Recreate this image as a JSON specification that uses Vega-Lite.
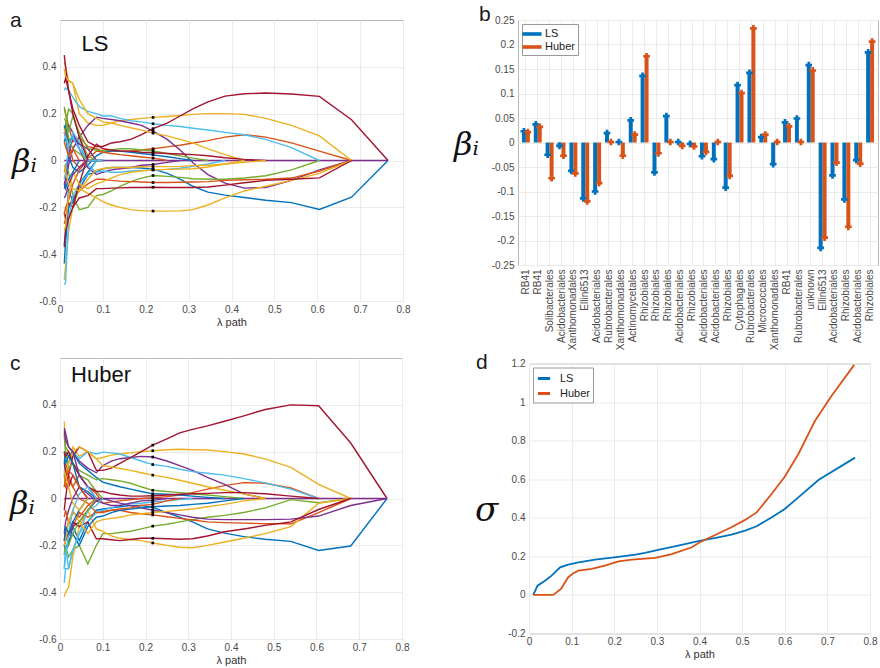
{
"$schema":"https://vega.github.io/schema/vega-lite/v6.json",
"background":"white",
"padding":{"left":9,"top":3,"right":0,"bottom":0},
"config":{"view":{"stroke":"#b8b8b8"},"axis":{"gridColor":"#ebebeb","labelColor":"#4a4a4a","labelFont":"Liberation Sans","labelFontSize":10,"titleFont":"Liberation Sans","titleFontWeight":"normal","titleFontSize":11,"titleColor":"#333","domain":false,"ticks":false,"labelFlush":false,"labelOverlap":false},"title":{"anchor":"start","frame":"group","baseline":"alphabetic","fontSize":21,"fontWeight":"normal","font":"Liberation Sans","color":"#1a1a1a"},"legend":{"labelFont":"Liberation Sans","labelFontSize":11,"labelColor":"#222"}},
"datasets":{
"la":[
{"s":"32","x":0.765,"y":0},{"s":"32","x":0.01,"y":0},
{"s":"01","x":0.765,"y":0},{"s":"01","x":0.68,"y":-0.157},{"s":"01","x":0.605,"y":-0.209},{"s":"01","x":0.54,"y":-0.18},{"s":"01","x":0.48,"y":-0.17},{"s":"01","x":0.43,"y":-0.158},{"s":"01","x":0.385,"y":-0.148},{"s":"01","x":0.345,"y":-0.135},{"s":"01","x":0.31,"y":-0.11},{"s":"01","x":0.28,"y":-0.08},{"s":"01","x":0.25,"y":-0.055},{"s":"01","x":0.217,"y":-0.037},{"s":"01","x":0.19,"y":-0.032},{"s":"01","x":0.165,"y":-0.03},{"s":"01","x":0.14,"y":-0.03},{"s":"01","x":0.12,"y":-0.03},{"s":"01","x":0.1,"y":-0.035},{"s":"01","x":0.085,"y":-0.05},{"s":"01","x":0.065,"y":-0.06},{"s":"01","x":0.045,"y":-0.12},{"s":"01","x":0.03,"y":-0.18},{"s":"01","x":0.02,"y":-0.12},{"s":"01","x":0.013,"y":-0.3},{"s":"01","x":0.01,"y":-0.36},
{"s":"02","x":0.68,"y":0},{"s":"02","x":0.605,"y":0.04},{"s":"02","x":0.54,"y":0.075},{"s":"02","x":0.48,"y":0.1},{"s":"02","x":0.43,"y":0.11},{"s":"02","x":0.385,"y":0.1},{"s":"02","x":0.345,"y":0.085},{"s":"02","x":0.31,"y":0.075},{"s":"02","x":0.28,"y":0.065},{"s":"02","x":0.25,"y":0.058},{"s":"02","x":0.217,"y":0.05},{"s":"02","x":0.19,"y":0.045},{"s":"02","x":0.165,"y":0.04},{"s":"02","x":0.14,"y":0.04},{"s":"02","x":0.12,"y":0.04},{"s":"02","x":0.1,"y":0.04},{"s":"02","x":0.085,"y":0.05},{"s":"02","x":0.065,"y":0.06},{"s":"02","x":0.045,"y":0.1},{"s":"02","x":0.03,"y":0.08},{"s":"02","x":0.02,"y":0.15},{"s":"02","x":0.013,"y":0.2},{"s":"02","x":0.01,"y":0.22},
{"s":"03","x":0.68,"y":0},{"s":"03","x":0.605,"y":0.105},{"s":"03","x":0.54,"y":0.15},{"s":"03","x":0.48,"y":0.18},{"s":"03","x":0.43,"y":0.197},{"s":"03","x":0.385,"y":0.2},{"s":"03","x":0.345,"y":0.2},{"s":"03","x":0.31,"y":0.197},{"s":"03","x":0.28,"y":0.192},{"s":"03","x":0.25,"y":0.188},{"s":"03","x":0.217,"y":0.184},{"s":"03","x":0.19,"y":0.18},{"s":"03","x":0.165,"y":0.175},{"s":"03","x":0.14,"y":0.17},{"s":"03","x":0.12,"y":0.16},{"s":"03","x":0.1,"y":0.15},{"s":"03","x":0.085,"y":0.15},{"s":"03","x":0.065,"y":0.16},{"s":"03","x":0.045,"y":0.2},{"s":"03","x":0.03,"y":0.33},{"s":"03","x":0.02,"y":0.34},{"s":"03","x":0.013,"y":0.4},{"s":"03","x":0.01,"y":0.42},
{"s":"04","x":0.68,"y":0},{"s":"04","x":0.605,"y":-0.04},{"s":"04","x":0.54,"y":-0.085},{"s":"04","x":0.48,"y":-0.115},{"s":"04","x":0.43,"y":-0.118},{"s":"04","x":0.385,"y":-0.097},{"s":"04","x":0.345,"y":-0.06},{"s":"04","x":0.31,"y":-0.01},{"s":"04","x":0.28,"y":0.045},{"s":"04","x":0.25,"y":0.09},{"s":"04","x":0.217,"y":0.125},{"s":"04","x":0.19,"y":0.15},{"s":"04","x":0.165,"y":0.16},{"s":"04","x":0.14,"y":0.17},{"s":"04","x":0.12,"y":0.175},{"s":"04","x":0.1,"y":0.18},{"s":"04","x":0.085,"y":0.185},{"s":"04","x":0.065,"y":0.15},{"s":"04","x":0.045,"y":0.1},{"s":"04","x":0.03,"y":0.05},{"s":"04","x":0.02,"y":-0.02},{"s":"04","x":0.013,"y":-0.1},{"s":"04","x":0.01,"y":-0.12},
{"s":"05","x":0.605,"y":0},{"s":"05","x":0.54,"y":-0.04},{"s":"05","x":0.48,"y":-0.065},{"s":"05","x":0.43,"y":-0.075},{"s":"05","x":0.385,"y":-0.08},{"s":"05","x":0.345,"y":-0.08},{"s":"05","x":0.31,"y":-0.078},{"s":"05","x":0.28,"y":-0.072},{"s":"05","x":0.25,"y":-0.068},{"s":"05","x":0.217,"y":-0.064},{"s":"05","x":0.19,"y":-0.075},{"s":"05","x":0.165,"y":-0.09},{"s":"05","x":0.14,"y":-0.11},{"s":"05","x":0.12,"y":-0.13},{"s":"05","x":0.1,"y":-0.145},{"s":"05","x":0.085,"y":-0.15},{"s":"05","x":0.065,"y":-0.2},{"s":"05","x":0.045,"y":-0.21},{"s":"05","x":0.03,"y":-0.15},{"s":"05","x":0.02,"y":-0.05},{"s":"05","x":0.013,"y":-0.02},{"s":"05","x":0.01,"y":-0.05},
{"s":"06","x":0.605,"y":0},{"s":"06","x":0.54,"y":0.055},{"s":"06","x":0.48,"y":0.09},{"s":"06","x":0.43,"y":0.11},{"s":"06","x":0.385,"y":0.12},{"s":"06","x":0.345,"y":0.13},{"s":"06","x":0.31,"y":0.138},{"s":"06","x":0.28,"y":0.145},{"s":"06","x":0.25,"y":0.15},{"s":"06","x":0.217,"y":0.157},{"s":"06","x":0.19,"y":0.165},{"s":"06","x":0.165,"y":0.17},{"s":"06","x":0.14,"y":0.18},{"s":"06","x":0.12,"y":0.19},{"s":"06","x":0.1,"y":0.19},{"s":"06","x":0.085,"y":0.2},{"s":"06","x":0.065,"y":0.21},{"s":"06","x":0.045,"y":0.23},{"s":"06","x":0.03,"y":0.27},{"s":"06","x":0.02,"y":0.3},{"s":"06","x":0.013,"y":0.31},{"s":"06","x":0.01,"y":0.3},
{"s":"07","x":0.765,"y":0},{"s":"07","x":0.68,"y":0.174},{"s":"07","x":0.605,"y":0.274},{"s":"07","x":0.54,"y":0.284},{"s":"07","x":0.48,"y":0.288},{"s":"07","x":0.43,"y":0.285},{"s":"07","x":0.385,"y":0.275},{"s":"07","x":0.345,"y":0.25},{"s":"07","x":0.31,"y":0.22},{"s":"07","x":0.28,"y":0.19},{"s":"07","x":0.25,"y":0.16},{"s":"07","x":0.217,"y":0.136},{"s":"07","x":0.19,"y":0.11},{"s":"07","x":0.165,"y":0.09},{"s":"07","x":0.14,"y":0.08},{"s":"07","x":0.12,"y":0.075},{"s":"07","x":0.1,"y":0.06},{"s":"07","x":0.085,"y":0.06},{"s":"07","x":0.065,"y":0.08},{"s":"07","x":0.045,"y":0.15},{"s":"07","x":0.03,"y":0.22},{"s":"07","x":0.02,"y":0.3},{"s":"07","x":0.013,"y":0.4},{"s":"07","x":0.01,"y":0.45},
{"s":"08","x":0.31,"y":0},{"s":"08","x":0.28,"y":0.008},{"s":"08","x":0.25,"y":0.016},{"s":"08","x":0.217,"y":0.024},{"s":"08","x":0.19,"y":0.03},{"s":"08","x":0.165,"y":0.035},{"s":"08","x":0.14,"y":0.04},{"s":"08","x":0.12,"y":0.04},{"s":"08","x":0.1,"y":0.035},{"s":"08","x":0.085,"y":0.02},{"s":"08","x":0.065,"y":-0.02},{"s":"08","x":0.045,"y":-0.05},{"s":"08","x":0.03,"y":-0.03},{"s":"08","x":0.02,"y":0.02},{"s":"08","x":0.013,"y":0.1},{"s":"08","x":0.01,"y":0.08},
{"s":"09","x":0.68,"y":0},{"s":"09","x":0.605,"y":-0.045},{"s":"09","x":0.54,"y":-0.075},{"s":"09","x":0.48,"y":-0.08},{"s":"09","x":0.43,"y":-0.082},{"s":"09","x":0.385,"y":-0.085},{"s":"09","x":0.345,"y":-0.09},{"s":"09","x":0.31,"y":-0.092},{"s":"09","x":0.28,"y":-0.093},{"s":"09","x":0.25,"y":-0.094},{"s":"09","x":0.217,"y":-0.094},{"s":"09","x":0.19,"y":-0.092},{"s":"09","x":0.165,"y":-0.09},{"s":"09","x":0.14,"y":-0.088},{"s":"09","x":0.12,"y":-0.085},{"s":"09","x":0.1,"y":-0.08},{"s":"09","x":0.085,"y":-0.08},{"s":"09","x":0.065,"y":-0.1},{"s":"09","x":0.045,"y":-0.13},{"s":"09","x":0.03,"y":-0.16},{"s":"09","x":0.02,"y":-0.2},{"s":"09","x":0.013,"y":-0.25},{"s":"09","x":0.01,"y":-0.27},
{"s":"10","x":0.68,"y":0},{"s":"10","x":0.605,"y":-0.055},{"s":"10","x":0.54,"y":-0.085},{"s":"10","x":0.48,"y":-0.11},{"s":"10","x":0.43,"y":-0.13},{"s":"10","x":0.385,"y":-0.16},{"s":"10","x":0.345,"y":-0.19},{"s":"10","x":0.31,"y":-0.21},{"s":"10","x":0.28,"y":-0.215},{"s":"10","x":0.25,"y":-0.216},{"s":"10","x":0.217,"y":-0.216},{"s":"10","x":0.19,"y":-0.214},{"s":"10","x":0.165,"y":-0.21},{"s":"10","x":0.14,"y":-0.2},{"s":"10","x":0.12,"y":-0.19},{"s":"10","x":0.1,"y":-0.176},{"s":"10","x":0.085,"y":-0.16},{"s":"10","x":0.065,"y":-0.14},{"s":"10","x":0.045,"y":-0.12},{"s":"10","x":0.03,"y":-0.2},{"s":"10","x":0.02,"y":-0.3},{"s":"10","x":0.013,"y":-0.45},{"s":"10","x":0.01,"y":-0.51},
{"s":"11","x":0.28,"y":0},{"s":"11","x":0.25,"y":-0.008},{"s":"11","x":0.217,"y":-0.017},{"s":"11","x":0.19,"y":-0.02},{"s":"11","x":0.165,"y":-0.03},{"s":"11","x":0.14,"y":-0.035},{"s":"11","x":0.12,"y":-0.04},{"s":"11","x":0.1,"y":-0.05},{"s":"11","x":0.085,"y":-0.06},{"s":"11","x":0.065,"y":-0.03},{"s":"11","x":0.045,"y":0.05},{"s":"11","x":0.03,"y":0.12},{"s":"11","x":0.02,"y":0.15},{"s":"11","x":0.013,"y":0.1},{"s":"11","x":0.01,"y":0.12},
{"s":"12","x":0.345,"y":0},{"s":"12","x":0.31,"y":0.01},{"s":"12","x":0.28,"y":0.02},{"s":"12","x":0.25,"y":0.03},{"s":"12","x":0.217,"y":0.041},{"s":"12","x":0.19,"y":0.045},{"s":"12","x":0.165,"y":0.05},{"s":"12","x":0.14,"y":0.05},{"s":"12","x":0.12,"y":0.045},{"s":"12","x":0.1,"y":0.04},{"s":"12","x":0.085,"y":0.045},{"s":"12","x":0.065,"y":0.05},{"s":"12","x":0.045,"y":0.12},{"s":"12","x":0.03,"y":0.19},{"s":"12","x":0.02,"y":0.12},{"s":"12","x":0.013,"y":0.2},{"s":"12","x":0.01,"y":0.23},
{"s":"13","x":0.385,"y":0},{"s":"13","x":0.345,"y":-0.015},{"s":"13","x":0.31,"y":-0.025},{"s":"13","x":0.28,"y":-0.033},{"s":"13","x":0.25,"y":-0.038},{"s":"13","x":0.217,"y":-0.04},{"s":"13","x":0.19,"y":-0.042},{"s":"13","x":0.165,"y":-0.045},{"s":"13","x":0.14,"y":-0.05},{"s":"13","x":0.12,"y":-0.05},{"s":"13","x":0.1,"y":-0.045},{"s":"13","x":0.085,"y":-0.05},{"s":"13","x":0.065,"y":-0.02},{"s":"13","x":0.045,"y":0.08},{"s":"13","x":0.03,"y":0.12},{"s":"13","x":0.02,"y":0.05},{"s":"13","x":0.013,"y":0.1},{"s":"13","x":0.01,"y":0.12},
{"s":"14","x":0.68,"y":0},{"s":"14","x":0.605,"y":-0.074},{"s":"14","x":0.54,"y":-0.08},{"s":"14","x":0.48,"y":-0.085},{"s":"14","x":0.43,"y":-0.095},{"s":"14","x":0.385,"y":-0.105},{"s":"14","x":0.345,"y":-0.113},{"s":"14","x":0.31,"y":-0.115},{"s":"14","x":0.28,"y":-0.115},{"s":"14","x":0.25,"y":-0.115},{"s":"14","x":0.217,"y":-0.114},{"s":"14","x":0.19,"y":-0.115},{"s":"14","x":0.165,"y":-0.115},{"s":"14","x":0.14,"y":-0.117},{"s":"14","x":0.12,"y":-0.118},{"s":"14","x":0.1,"y":-0.12},{"s":"14","x":0.085,"y":-0.12},{"s":"14","x":0.065,"y":-0.15},{"s":"14","x":0.045,"y":-0.16},{"s":"14","x":0.03,"y":-0.2},{"s":"14","x":0.02,"y":-0.18},{"s":"14","x":0.013,"y":-0.25},{"s":"14","x":0.01,"y":-0.22},
{"s":"15","x":0.1,"y":0},{"s":"15","x":0.085,"y":0},{"s":"15","x":0.065,"y":-0.05},{"s":"15","x":0.045,"y":-0.1},{"s":"15","x":0.03,"y":-0.18},{"s":"15","x":0.02,"y":-0.2},{"s":"15","x":0.013,"y":-0.35},{"s":"15","x":0.01,"y":-0.44},
{"s":"16","x":0.25,"y":0},{"s":"16","x":0.217,"y":0.01},{"s":"16","x":0.19,"y":0.015},{"s":"16","x":0.165,"y":0.02},{"s":"16","x":0.14,"y":0.025},{"s":"16","x":0.12,"y":0.03},{"s":"16","x":0.1,"y":0.035},{"s":"16","x":0.085,"y":0.04},{"s":"16","x":0.065,"y":0.01},{"s":"16","x":0.045,"y":-0.03},{"s":"16","x":0.03,"y":0},{"s":"16","x":0.02,"y":0.08},{"s":"16","x":0.013,"y":0.12},{"s":"16","x":0.01,"y":0.15},
{"s":"17","x":0.43,"y":0},{"s":"17","x":0.385,"y":0.025},{"s":"17","x":0.345,"y":0.05},{"s":"17","x":0.31,"y":0.075},{"s":"17","x":0.28,"y":0.09},{"s":"17","x":0.25,"y":0.105},{"s":"17","x":0.217,"y":0.117},{"s":"17","x":0.19,"y":0.13},{"s":"17","x":0.165,"y":0.14},{"s":"17","x":0.14,"y":0.15},{"s":"17","x":0.12,"y":0.16},{"s":"17","x":0.1,"y":0.165},{"s":"17","x":0.085,"y":0.18},{"s":"17","x":0.065,"y":0.2},{"s":"17","x":0.045,"y":0.26},{"s":"17","x":0.03,"y":0.33},{"s":"17","x":0.02,"y":0.34},{"s":"17","x":0.013,"y":0.36},{"s":"17","x":0.01,"y":0.39},
{"s":"18","x":0.1,"y":0},{"s":"18","x":0.085,"y":0},{"s":"18","x":0.065,"y":0.05},{"s":"18","x":0.045,"y":0.07},{"s":"18","x":0.03,"y":0.1},{"s":"18","x":0.02,"y":0.02},{"s":"18","x":0.013,"y":-0.08},{"s":"18","x":0.01,"y":-0.1},
{"s":"19","x":0.1,"y":0},{"s":"19","x":0.085,"y":0},{"s":"19","x":0.065,"y":0.02},{"s":"19","x":0.045,"y":0.1},{"s":"19","x":0.03,"y":0.2},{"s":"19","x":0.02,"y":0.22},{"s":"19","x":0.013,"y":0.15},{"s":"19","x":0.01,"y":0.13},
{"s":"20","x":0.1,"y":0},{"s":"20","x":0.085,"y":0},{"s":"20","x":0.065,"y":-0.06},{"s":"20","x":0.045,"y":-0.1},{"s":"20","x":0.03,"y":-0.15},{"s":"20","x":0.02,"y":-0.25},{"s":"20","x":0.013,"y":-0.52},{"s":"20","x":0.01,"y":-0.53},
{"s":"21","x":0.48,"y":0},{"s":"21","x":0.43,"y":0.005},{"s":"21","x":0.385,"y":0.012},{"s":"21","x":0.345,"y":0.02},{"s":"21","x":0.31,"y":0.025},{"s":"21","x":0.28,"y":0.028},{"s":"21","x":0.25,"y":0.03},{"s":"21","x":0.217,"y":0.033},{"s":"21","x":0.19,"y":0.035},{"s":"21","x":0.165,"y":0.04},{"s":"21","x":0.14,"y":0.04},{"s":"21","x":0.12,"y":0.045},{"s":"21","x":0.1,"y":0.05},{"s":"21","x":0.085,"y":0.07},{"s":"21","x":0.065,"y":0.02},{"s":"21","x":0.045,"y":-0.1},{"s":"21","x":0.03,"y":-0.2},{"s":"21","x":0.02,"y":-0.25},{"s":"21","x":0.013,"y":-0.3},{"s":"21","x":0.01,"y":-0.37},
{"s":"22","x":0.085,"y":0},{"s":"22","x":0.065,"y":0},{"s":"22","x":0.045,"y":0.05},{"s":"22","x":0.03,"y":0.1},{"s":"22","x":0.02,"y":0.08},{"s":"22","x":0.013,"y":0.15},{"s":"22","x":0.01,"y":0.14},
{"s":"23","x":0.085,"y":0},{"s":"23","x":0.065,"y":0},{"s":"23","x":0.045,"y":-0.04},{"s":"23","x":0.03,"y":-0.1},{"s":"23","x":0.02,"y":-0.17},{"s":"23","x":0.013,"y":-0.2},{"s":"23","x":0.01,"y":-0.23},
{"s":"24","x":0.43,"y":0},{"s":"24","x":0.385,"y":-0.015},{"s":"24","x":0.345,"y":-0.028},{"s":"24","x":0.31,"y":-0.035},{"s":"24","x":0.28,"y":-0.037},{"s":"24","x":0.25,"y":-0.038},{"s":"24","x":0.217,"y":-0.04},{"s":"24","x":0.19,"y":-0.045},{"s":"24","x":0.165,"y":-0.05},{"s":"24","x":0.14,"y":-0.06},{"s":"24","x":0.12,"y":-0.075},{"s":"24","x":0.1,"y":-0.09},{"s":"24","x":0.085,"y":-0.1},{"s":"24","x":0.065,"y":-0.12},{"s":"24","x":0.045,"y":-0.1},{"s":"24","x":0.03,"y":-0.05},{"s":"24","x":0.02,"y":-0.15},{"s":"24","x":0.013,"y":-0.28},{"s":"24","x":0.01,"y":-0.3},
{"s":"25","x":0.085,"y":0},{"s":"25","x":0.065,"y":0},{"s":"25","x":0.045,"y":-0.03},{"s":"25","x":0.03,"y":-0.06},{"s":"25","x":0.02,"y":-0.1},{"s":"25","x":0.013,"y":-0.15},{"s":"25","x":0.01,"y":-0.16},
{"s":"26","x":0.085,"y":0},{"s":"26","x":0.065,"y":0},{"s":"26","x":0.045,"y":0.03},{"s":"26","x":0.03,"y":0.05},{"s":"26","x":0.02,"y":0.1},{"s":"26","x":0.013,"y":0.17},{"s":"26","x":0.01,"y":0.18},
{"s":"27","x":0.085,"y":0},{"s":"27","x":0.065,"y":0},{"s":"27","x":0.045,"y":0.05},{"s":"27","x":0.03,"y":0.1},{"s":"27","x":0.02,"y":0.06},{"s":"27","x":0.013,"y":-0.05},{"s":"27","x":0.01,"y":-0.08},
{"s":"28","x":0.065,"y":0},{"s":"28","x":0.045,"y":0.1},{"s":"28","x":0.03,"y":0.2},{"s":"28","x":0.02,"y":0.3},{"s":"28","x":0.013,"y":0.35},{"s":"28","x":0.01,"y":0.33},
{"s":"29","x":0.045,"y":0},{"s":"29","x":0.03,"y":-0.05},{"s":"29","x":0.02,"y":-0.08},{"s":"29","x":0.013,"y":-0.12},{"s":"29","x":0.01,"y":-0.1},
{"s":"30","x":0.045,"y":0},{"s":"30","x":0.03,"y":0.05},{"s":"30","x":0.02,"y":0.02},{"s":"30","x":0.013,"y":0.06},{"s":"30","x":0.01,"y":0.08},
{"s":"31","x":0.48,"y":0},{"s":"31","x":0.43,"y":-0.008},{"s":"31","x":0.385,"y":-0.015},{"s":"31","x":0.345,"y":-0.02},{"s":"31","x":0.31,"y":-0.022},{"s":"31","x":0.28,"y":-0.025},{"s":"31","x":0.25,"y":-0.026},{"s":"31","x":0.217,"y":-0.026},{"s":"31","x":0.19,"y":-0.027},{"s":"31","x":0.165,"y":-0.03},{"s":"31","x":0.14,"y":-0.03},{"s":"31","x":0.12,"y":-0.03},{"s":"31","x":0.1,"y":-0.035},{"s":"31","x":0.085,"y":-0.04},{"s":"31","x":0.065,"y":-0.08},{"s":"31","x":0.045,"y":-0.13},{"s":"31","x":0.03,"y":-0.12},{"s":"31","x":0.02,"y":-0.1},{"s":"31","x":0.013,"y":-0.05},{"s":"31","x":0.01,"y":-0.02}
],
"lc":[
{"s":"32","x":0.765,"y":0},{"s":"32","x":0.01,"y":0},
{"s":"01","x":0.765,"y":0},{"s":"01","x":0.68,"y":-0.203},{"s":"01","x":0.605,"y":-0.222},{"s":"01","x":0.54,"y":-0.183},{"s":"01","x":0.48,"y":-0.174},{"s":"01","x":0.43,"y":-0.163},{"s":"01","x":0.385,"y":-0.148},{"s":"01","x":0.345,"y":-0.13},{"s":"01","x":0.31,"y":-0.1},{"s":"01","x":0.28,"y":-0.08},{"s":"01","x":0.25,"y":-0.06},{"s":"01","x":0.217,"y":-0.038},{"s":"01","x":0.19,"y":-0.03},{"s":"01","x":0.165,"y":-0.03},{"s":"01","x":0.14,"y":-0.035},{"s":"01","x":0.12,"y":-0.04},{"s":"01","x":0.1,"y":-0.045},{"s":"01","x":0.085,"y":-0.05},{"s":"01","x":0.065,"y":-0.1},{"s":"01","x":0.045,"y":-0.18},{"s":"01","x":0.03,"y":-0.12},{"s":"01","x":0.02,"y":-0.2},{"s":"01","x":0.013,"y":-0.22},{"s":"01","x":0.01,"y":-0.24},
{"s":"02","x":0.605,"y":0},{"s":"02","x":0.54,"y":0.045},{"s":"02","x":0.48,"y":0.065},{"s":"02","x":0.43,"y":0.068},{"s":"02","x":0.385,"y":0.055},{"s":"02","x":0.345,"y":0.04},{"s":"02","x":0.31,"y":0.025},{"s":"02","x":0.28,"y":0.015},{"s":"02","x":0.25,"y":0.008},{"s":"02","x":0.217,"y":0.003},{"s":"02","x":0.19,"y":0},{"s":"02","x":0.14,"y":-0.01},{"s":"02","x":0.1,"y":-0.02},{"s":"02","x":0.085,"y":0.02},{"s":"02","x":0.065,"y":0.05},{"s":"02","x":0.045,"y":0.1},{"s":"02","x":0.03,"y":0.05},{"s":"02","x":0.02,"y":0.1},{"s":"02","x":0.013,"y":0.15},{"s":"02","x":0.01,"y":0.2},
{"s":"03","x":0.68,"y":0},{"s":"03","x":0.605,"y":0.06},{"s":"03","x":0.54,"y":0.133},{"s":"03","x":0.48,"y":0.169},{"s":"03","x":0.43,"y":0.19},{"s":"03","x":0.385,"y":0.2},{"s":"03","x":0.345,"y":0.207},{"s":"03","x":0.31,"y":0.208},{"s":"03","x":0.28,"y":0.21},{"s":"03","x":0.25,"y":0.208},{"s":"03","x":0.217,"y":0.204},{"s":"03","x":0.19,"y":0.2},{"s":"03","x":0.165,"y":0.195},{"s":"03","x":0.14,"y":0.19},{"s":"03","x":0.12,"y":0.185},{"s":"03","x":0.1,"y":0.175},{"s":"03","x":0.085,"y":0.17},{"s":"03","x":0.065,"y":0.2},{"s":"03","x":0.045,"y":0.18},{"s":"03","x":0.03,"y":0.22},{"s":"03","x":0.02,"y":0.15},{"s":"03","x":0.013,"y":0.2},{"s":"03","x":0.01,"y":0.33},
{"s":"04","x":0.48,"y":0},{"s":"04","x":0.43,"y":0.02},{"s":"04","x":0.385,"y":0.06},{"s":"04","x":0.345,"y":0.09},{"s":"04","x":0.31,"y":0.12},{"s":"04","x":0.28,"y":0.14},{"s":"04","x":0.25,"y":0.16},{"s":"04","x":0.217,"y":0.177},{"s":"04","x":0.19,"y":0.18},{"s":"04","x":0.165,"y":0.175},{"s":"04","x":0.14,"y":0.17},{"s":"04","x":0.12,"y":0.16},{"s":"04","x":0.1,"y":0.14},{"s":"04","x":0.085,"y":0.11},{"s":"04","x":0.065,"y":0.13},{"s":"04","x":0.045,"y":0.16},{"s":"04","x":0.03,"y":0.2},{"s":"04","x":0.02,"y":0.22},{"s":"04","x":0.013,"y":0.28},{"s":"04","x":0.01,"y":0.3},
{"s":"05","x":0.68,"y":0},{"s":"05","x":0.605,"y":-0.018},{"s":"05","x":0.54,"y":-0.005},{"s":"05","x":0.48,"y":-0.04},{"s":"05","x":0.43,"y":-0.06},{"s":"05","x":0.385,"y":-0.072},{"s":"05","x":0.345,"y":-0.08},{"s":"05","x":0.31,"y":-0.09},{"s":"05","x":0.28,"y":-0.1},{"s":"05","x":0.25,"y":-0.11},{"s":"05","x":0.217,"y":-0.118},{"s":"05","x":0.19,"y":-0.13},{"s":"05","x":0.165,"y":-0.14},{"s":"05","x":0.14,"y":-0.145},{"s":"05","x":0.12,"y":-0.15},{"s":"05","x":0.1,"y":-0.15},{"s":"05","x":0.085,"y":-0.2},{"s":"05","x":0.065,"y":-0.28},{"s":"05","x":0.045,"y":-0.2},{"s":"05","x":0.03,"y":-0.22},{"s":"05","x":0.02,"y":-0.25},{"s":"05","x":0.013,"y":-0.2},{"s":"05","x":0.01,"y":-0.24},
{"s":"06","x":0.605,"y":0},{"s":"06","x":0.54,"y":0.04},{"s":"06","x":0.48,"y":0.067},{"s":"06","x":0.43,"y":0.085},{"s":"06","x":0.385,"y":0.1},{"s":"06","x":0.345,"y":0.108},{"s":"06","x":0.31,"y":0.115},{"s":"06","x":0.28,"y":0.125},{"s":"06","x":0.25,"y":0.137},{"s":"06","x":0.217,"y":0.145},{"s":"06","x":0.19,"y":0.16},{"s":"06","x":0.165,"y":0.175},{"s":"06","x":0.14,"y":0.19},{"s":"06","x":0.12,"y":0.195},{"s":"06","x":0.1,"y":0.198},{"s":"06","x":0.085,"y":0.19},{"s":"06","x":0.065,"y":0.2},{"s":"06","x":0.045,"y":0.17},{"s":"06","x":0.03,"y":0.2},{"s":"06","x":0.02,"y":0.15},{"s":"06","x":0.013,"y":0.18},{"s":"06","x":0.01,"y":0.1},
{"s":"07","x":0.765,"y":0},{"s":"07","x":0.68,"y":0.237},{"s":"07","x":0.605,"y":0.396},{"s":"07","x":0.54,"y":0.4},{"s":"07","x":0.48,"y":0.38},{"s":"07","x":0.43,"y":0.353},{"s":"07","x":0.385,"y":0.33},{"s":"07","x":0.345,"y":0.31},{"s":"07","x":0.31,"y":0.295},{"s":"07","x":0.28,"y":0.28},{"s":"07","x":0.25,"y":0.255},{"s":"07","x":0.217,"y":0.228},{"s":"07","x":0.19,"y":0.2},{"s":"07","x":0.165,"y":0.175},{"s":"07","x":0.14,"y":0.15},{"s":"07","x":0.12,"y":0.13},{"s":"07","x":0.1,"y":0.12},{"s":"07","x":0.085,"y":0.12},{"s":"07","x":0.065,"y":0.2},{"s":"07","x":0.045,"y":0.22},{"s":"07","x":0.03,"y":0.18},{"s":"07","x":0.02,"y":0.1},{"s":"07","x":0.013,"y":0},{"s":"07","x":0.01,"y":-0.05},
{"s":"08","x":0.385,"y":0},{"s":"08","x":0.345,"y":0.005},{"s":"08","x":0.31,"y":0.01},{"s":"08","x":0.28,"y":0.015},{"s":"08","x":0.25,"y":0.018},{"s":"08","x":0.217,"y":0.02},{"s":"08","x":0.19,"y":0.03},{"s":"08","x":0.165,"y":0.04},{"s":"08","x":0.14,"y":0.05},{"s":"08","x":0.12,"y":0.06},{"s":"08","x":0.1,"y":0.07},{"s":"08","x":0.085,"y":0.09},{"s":"08","x":0.065,"y":0.12},{"s":"08","x":0.045,"y":0.15},{"s":"08","x":0.03,"y":0.2},{"s":"08","x":0.02,"y":0.18},{"s":"08","x":0.013,"y":0.2},{"s":"08","x":0.01,"y":0.15},
{"s":"09","x":0.68,"y":0},{"s":"09","x":0.605,"y":-0.06},{"s":"09","x":0.54,"y":-0.108},{"s":"09","x":0.48,"y":-0.108},{"s":"09","x":0.43,"y":-0.105},{"s":"09","x":0.385,"y":-0.103},{"s":"09","x":0.345,"y":-0.1},{"s":"09","x":0.31,"y":-0.092},{"s":"09","x":0.28,"y":-0.085},{"s":"09","x":0.25,"y":-0.078},{"s":"09","x":0.217,"y":-0.07},{"s":"09","x":0.19,"y":-0.065},{"s":"09","x":0.165,"y":-0.06},{"s":"09","x":0.14,"y":-0.05},{"s":"09","x":0.12,"y":-0.05},{"s":"09","x":0.1,"y":-0.055},{"s":"09","x":0.085,"y":-0.06},{"s":"09","x":0.065,"y":-0.08},{"s":"09","x":0.045,"y":-0.06},{"s":"09","x":0.03,"y":-0.12},{"s":"09","x":0.02,"y":-0.1},{"s":"09","x":0.013,"y":-0.15},{"s":"09","x":0.01,"y":-0.18},
{"s":"10","x":0.68,"y":0},{"s":"10","x":0.605,"y":-0.02},{"s":"10","x":0.54,"y":-0.12},{"s":"10","x":0.48,"y":-0.15},{"s":"10","x":0.43,"y":-0.17},{"s":"10","x":0.385,"y":-0.186},{"s":"10","x":0.345,"y":-0.2},{"s":"10","x":0.31,"y":-0.21},{"s":"10","x":0.28,"y":-0.208},{"s":"10","x":0.25,"y":-0.2},{"s":"10","x":0.217,"y":-0.19},{"s":"10","x":0.19,"y":-0.18},{"s":"10","x":0.165,"y":-0.175},{"s":"10","x":0.14,"y":-0.17},{"s":"10","x":0.12,"y":-0.16},{"s":"10","x":0.1,"y":-0.14},{"s":"10","x":0.085,"y":-0.13},{"s":"10","x":0.065,"y":-0.05},{"s":"10","x":0.045,"y":-0.12},{"s":"10","x":0.03,"y":-0.25},{"s":"10","x":0.02,"y":-0.38},{"s":"10","x":0.013,"y":-0.4},{"s":"10","x":0.01,"y":-0.42},
{"s":"11","x":0.765,"y":0},{"s":"11","x":0.68,"y":-0.03},{"s":"11","x":0.605,"y":-0.075},{"s":"11","x":0.54,"y":-0.088},{"s":"11","x":0.48,"y":-0.09},{"s":"11","x":0.43,"y":-0.09},{"s":"11","x":0.385,"y":-0.09},{"s":"11","x":0.345,"y":-0.088},{"s":"11","x":0.31,"y":-0.08},{"s":"11","x":0.28,"y":-0.07},{"s":"11","x":0.25,"y":-0.06},{"s":"11","x":0.217,"y":-0.05},{"s":"11","x":0.19,"y":-0.04},{"s":"11","x":0.165,"y":-0.03},{"s":"11","x":0.14,"y":-0.02},{"s":"11","x":0.12,"y":-0.01},{"s":"11","x":0.1,"y":0},{"s":"11","x":0.085,"y":-0.01},{"s":"11","x":0.065,"y":-0.05},{"s":"11","x":0.045,"y":-0.1},{"s":"11","x":0.03,"y":-0.12},{"s":"11","x":0.02,"y":-0.16},{"s":"11","x":0.013,"y":-0.15},{"s":"11","x":0.01,"y":-0.18},
{"s":"12","x":0.43,"y":0},{"s":"12","x":0.385,"y":0.008},{"s":"12","x":0.345,"y":0.015},{"s":"12","x":0.31,"y":0.02},{"s":"12","x":0.28,"y":0.025},{"s":"12","x":0.25,"y":0.03},{"s":"12","x":0.217,"y":0.035},{"s":"12","x":0.19,"y":0.05},{"s":"12","x":0.165,"y":0.065},{"s":"12","x":0.14,"y":0.075},{"s":"12","x":0.12,"y":0.08},{"s":"12","x":0.1,"y":0.085},{"s":"12","x":0.085,"y":0.08},{"s":"12","x":0.065,"y":0.1},{"s":"12","x":0.045,"y":0.12},{"s":"12","x":0.03,"y":0.15},{"s":"12","x":0.02,"y":0.13},{"s":"12","x":0.013,"y":0.2},{"s":"12","x":0.01,"y":0.27},
{"s":"13","x":0.31,"y":0},{"s":"13","x":0.28,"y":-0.005},{"s":"13","x":0.25,"y":-0.01},{"s":"13","x":0.217,"y":-0.015},{"s":"13","x":0.19,"y":-0.02},{"s":"13","x":0.165,"y":-0.02},{"s":"13","x":0.14,"y":-0.03},{"s":"13","x":0.12,"y":-0.04},{"s":"13","x":0.1,"y":-0.05},{"s":"13","x":0.085,"y":-0.06},{"s":"13","x":0.065,"y":-0.1},{"s":"13","x":0.045,"y":-0.15},{"s":"13","x":0.03,"y":-0.22},{"s":"13","x":0.02,"y":-0.3},{"s":"13","x":0.013,"y":-0.3},{"s":"13","x":0.01,"y":-0.36},
{"s":"14","x":0.68,"y":0},{"s":"14","x":0.605,"y":-0.047},{"s":"14","x":0.54,"y":-0.1},{"s":"14","x":0.48,"y":-0.115},{"s":"14","x":0.43,"y":-0.13},{"s":"14","x":0.385,"y":-0.142},{"s":"14","x":0.345,"y":-0.16},{"s":"14","x":0.31,"y":-0.172},{"s":"14","x":0.28,"y":-0.174},{"s":"14","x":0.25,"y":-0.172},{"s":"14","x":0.217,"y":-0.17},{"s":"14","x":0.19,"y":-0.17},{"s":"14","x":0.165,"y":-0.175},{"s":"14","x":0.14,"y":-0.18},{"s":"14","x":0.12,"y":-0.176},{"s":"14","x":0.1,"y":-0.172},{"s":"14","x":0.085,"y":-0.172},{"s":"14","x":0.065,"y":-0.1},{"s":"14","x":0.045,"y":-0.12},{"s":"14","x":0.03,"y":-0.1},{"s":"14","x":0.02,"y":-0.15},{"s":"14","x":0.013,"y":-0.18},{"s":"14","x":0.01,"y":-0.2},
{"s":"15","x":0.43,"y":0},{"s":"15","x":0.385,"y":-0.01},{"s":"15","x":0.345,"y":-0.02},{"s":"15","x":0.31,"y":-0.025},{"s":"15","x":0.28,"y":-0.03},{"s":"15","x":0.25,"y":-0.032},{"s":"15","x":0.217,"y":-0.035},{"s":"15","x":0.19,"y":-0.04},{"s":"15","x":0.165,"y":-0.045},{"s":"15","x":0.14,"y":-0.05},{"s":"15","x":0.12,"y":-0.06},{"s":"15","x":0.1,"y":-0.075},{"s":"15","x":0.085,"y":-0.08},{"s":"15","x":0.065,"y":-0.12},{"s":"15","x":0.045,"y":-0.2},{"s":"15","x":0.03,"y":-0.15},{"s":"15","x":0.02,"y":-0.18},{"s":"15","x":0.013,"y":-0.22},{"s":"15","x":0.01,"y":-0.2},
{"s":"16","x":0.28,"y":0},{"s":"16","x":0.25,"y":-0.01},{"s":"16","x":0.217,"y":-0.025},{"s":"16","x":0.19,"y":-0.03},{"s":"16","x":0.165,"y":-0.04},{"s":"16","x":0.14,"y":-0.045},{"s":"16","x":0.12,"y":-0.05},{"s":"16","x":0.1,"y":-0.06},{"s":"16","x":0.085,"y":-0.06},{"s":"16","x":0.065,"y":-0.02},{"s":"16","x":0.045,"y":0},{"s":"16","x":0.03,"y":0.05},{"s":"16","x":0.02,"y":0.08},{"s":"16","x":0.013,"y":0.05},{"s":"16","x":0.01,"y":0.1},
{"s":"17","x":0.48,"y":0},{"s":"17","x":0.43,"y":0.02},{"s":"17","x":0.385,"y":0.035},{"s":"17","x":0.345,"y":0.05},{"s":"17","x":0.31,"y":0.065},{"s":"17","x":0.28,"y":0.078},{"s":"17","x":0.25,"y":0.09},{"s":"17","x":0.217,"y":0.1},{"s":"17","x":0.19,"y":0.11},{"s":"17","x":0.165,"y":0.12},{"s":"17","x":0.14,"y":0.128},{"s":"17","x":0.12,"y":0.135},{"s":"17","x":0.1,"y":0.14},{"s":"17","x":0.085,"y":0.17},{"s":"17","x":0.065,"y":0.2},{"s":"17","x":0.045,"y":0.22},{"s":"17","x":0.03,"y":0.2},{"s":"17","x":0.02,"y":0.15},{"s":"17","x":0.013,"y":0.1},{"s":"17","x":0.01,"y":0.05},
{"s":"18","x":0.25,"y":0},{"s":"18","x":0.217,"y":-0.008},{"s":"18","x":0.19,"y":-0.01},{"s":"18","x":0.165,"y":-0.02},{"s":"18","x":0.14,"y":-0.03},{"s":"18","x":0.12,"y":-0.03},{"s":"18","x":0.1,"y":-0.02},{"s":"18","x":0.085,"y":-0.01},{"s":"18","x":0.065,"y":0.02},{"s":"18","x":0.045,"y":0.05},{"s":"18","x":0.03,"y":0},{"s":"18","x":0.02,"y":-0.05},{"s":"18","x":0.013,"y":-0.1},{"s":"18","x":0.01,"y":-0.15},
{"s":"19","x":0.1,"y":0},{"s":"19","x":0.085,"y":0.03},{"s":"19","x":0.065,"y":0.08},{"s":"19","x":0.045,"y":0.1},{"s":"19","x":0.03,"y":0.15},{"s":"19","x":0.02,"y":0.2},{"s":"19","x":0.013,"y":0.22},{"s":"19","x":0.01,"y":0.28},
{"s":"20","x":0.1,"y":0},{"s":"20","x":0.085,"y":-0.03},{"s":"20","x":0.065,"y":-0.05},{"s":"20","x":0.045,"y":-0.15},{"s":"20","x":0.03,"y":-0.22},{"s":"20","x":0.02,"y":-0.3},{"s":"20","x":0.013,"y":-0.2},{"s":"20","x":0.01,"y":-0.3},
{"s":"21","x":0.605,"y":0},{"s":"21","x":0.54,"y":0.01},{"s":"21","x":0.48,"y":0.02},{"s":"21","x":0.43,"y":0.025},{"s":"21","x":0.385,"y":0.025},{"s":"21","x":0.345,"y":0.022},{"s":"21","x":0.31,"y":0.02},{"s":"21","x":0.28,"y":0.018},{"s":"21","x":0.25,"y":0.015},{"s":"21","x":0.217,"y":0.012},{"s":"21","x":0.19,"y":0.01},{"s":"21","x":0.165,"y":0.01},{"s":"21","x":0.14,"y":0.015},{"s":"21","x":0.12,"y":0.02},{"s":"21","x":0.1,"y":0.03},{"s":"21","x":0.085,"y":0.03},{"s":"21","x":0.065,"y":0.05},{"s":"21","x":0.045,"y":0.1},{"s":"21","x":0.03,"y":0.15},{"s":"21","x":0.02,"y":0.2},{"s":"21","x":0.013,"y":0.18},{"s":"21","x":0.01,"y":0.2},
{"s":"22","x":0.085,"y":0},{"s":"22","x":0.065,"y":0.03},{"s":"22","x":0.045,"y":0.05},{"s":"22","x":0.03,"y":0.15},{"s":"22","x":0.02,"y":0.18},{"s":"22","x":0.013,"y":0.15},{"s":"22","x":0.01,"y":0.17},
{"s":"23","x":0.085,"y":0},{"s":"23","x":0.065,"y":-0.03},{"s":"23","x":0.045,"y":-0.08},{"s":"23","x":0.03,"y":-0.06},{"s":"23","x":0.02,"y":-0.1},{"s":"23","x":0.013,"y":-0.05},{"s":"23","x":0.01,"y":-0.08},
{"s":"24","x":0.48,"y":0},{"s":"24","x":0.43,"y":-0.01},{"s":"24","x":0.385,"y":-0.025},{"s":"24","x":0.345,"y":-0.035},{"s":"24","x":0.31,"y":-0.045},{"s":"24","x":0.28,"y":-0.05},{"s":"24","x":0.25,"y":-0.055},{"s":"24","x":0.217,"y":-0.06},{"s":"24","x":0.19,"y":-0.065},{"s":"24","x":0.165,"y":-0.07},{"s":"24","x":0.14,"y":-0.08},{"s":"24","x":0.12,"y":-0.085},{"s":"24","x":0.1,"y":-0.09},{"s":"24","x":0.085,"y":-0.1},{"s":"24","x":0.065,"y":-0.15},{"s":"24","x":0.045,"y":-0.1},{"s":"24","x":0.03,"y":-0.05},{"s":"24","x":0.02,"y":-0.1},{"s":"24","x":0.013,"y":-0.18},{"s":"24","x":0.01,"y":-0.2},
{"s":"25","x":0.085,"y":0},{"s":"25","x":0.065,"y":0.05},{"s":"25","x":0.045,"y":0.1},{"s":"25","x":0.03,"y":0.2},{"s":"25","x":0.02,"y":0.22},{"s":"25","x":0.013,"y":0.25},{"s":"25","x":0.01,"y":0.29},
{"s":"26","x":0.085,"y":0},{"s":"26","x":0.065,"y":-0.05},{"s":"26","x":0.045,"y":-0.1},{"s":"26","x":0.03,"y":-0.15},{"s":"26","x":0.02,"y":-0.2},{"s":"26","x":0.013,"y":-0.21},{"s":"26","x":0.01,"y":-0.23},
{"s":"27","x":0.085,"y":0},{"s":"27","x":0.065,"y":0.05},{"s":"27","x":0.045,"y":0.02},{"s":"27","x":0.03,"y":-0.05},{"s":"27","x":0.02,"y":-0.15},{"s":"27","x":0.013,"y":-0.25},{"s":"27","x":0.01,"y":-0.3},
{"s":"28","x":0.065,"y":0},{"s":"28","x":0.045,"y":0.05},{"s":"28","x":0.03,"y":0.1},{"s":"28","x":0.02,"y":0.05},{"s":"28","x":0.013,"y":0.12},{"s":"28","x":0.01,"y":0.15},
{"s":"29","x":0.065,"y":0},{"s":"29","x":0.045,"y":-0.05},{"s":"29","x":0.03,"y":-0.1},{"s":"29","x":0.02,"y":-0.15},{"s":"29","x":0.013,"y":-0.12},{"s":"29","x":0.01,"y":-0.18},
{"s":"30","x":0.065,"y":0},{"s":"30","x":0.045,"y":0.05},{"s":"30","x":0.03,"y":0.1},{"s":"30","x":0.02,"y":0.12},{"s":"30","x":0.013,"y":0.08},{"s":"30","x":0.01,"y":0.05},
{"s":"31","x":0.065,"y":0},{"s":"31","x":0.045,"y":-0.05},{"s":"31","x":0.03,"y":-0.02},{"s":"31","x":0.02,"y":0.05},{"s":"31","x":0.013,"y":0.1},{"s":"31","x":0.01,"y":0.12}
],
"bars":[
{"i":1,"m":"LS","v":0.023},{"i":1,"m":"Huber","v":0.021},
{"i":2,"m":"LS","v":0.037},{"i":2,"m":"Huber","v":0.032},
{"i":3,"m":"LS","v":-0.025},{"i":3,"m":"Huber","v":-0.073},
{"i":4,"m":"LS","v":-0.007},{"i":4,"m":"Huber","v":-0.027},
{"i":5,"m":"LS","v":-0.058},{"i":5,"m":"Huber","v":-0.063},
{"i":6,"m":"LS","v":-0.114},{"i":6,"m":"Huber","v":-0.12},
{"i":7,"m":"LS","v":-0.1},{"i":7,"m":"Huber","v":-0.083},
{"i":8,"m":"LS","v":0.019},{"i":8,"m":"Huber","v":0.001},
{"i":9,"m":"LS","v":0.001},{"i":9,"m":"Huber","v":-0.027},
{"i":10,"m":"LS","v":0.045},{"i":10,"m":"Huber","v":0.016},
{"i":11,"m":"LS","v":0.136},{"i":11,"m":"Huber","v":0.176},
{"i":12,"m":"LS","v":-0.061},{"i":12,"m":"Huber","v":-0.022},
{"i":13,"m":"LS","v":0.054},{"i":13,"m":"Huber","v":0.001},
{"i":14,"m":"LS","v":0.001},{"i":14,"m":"Huber","v":-0.007},
{"i":15,"m":"LS","v":-0.003},{"i":15,"m":"Huber","v":-0.008},
{"i":16,"m":"LS","v":-0.028},{"i":16,"m":"Huber","v":-0.019},
{"i":17,"m":"LS","v":-0.034},{"i":17,"m":"Huber","v":0.001},
{"i":18,"m":"LS","v":-0.092},{"i":18,"m":"Huber","v":-0.068},
{"i":19,"m":"LS","v":0.117},{"i":19,"m":"Huber","v":0.101},
{"i":20,"m":"LS","v":0.142},{"i":20,"m":"Huber","v":0.233},
{"i":21,"m":"LS","v":0.011},{"i":21,"m":"Huber","v":0.016},
{"i":22,"m":"LS","v":-0.044},{"i":22,"m":"Huber","v":0.001},
{"i":23,"m":"LS","v":0.041},{"i":23,"m":"Huber","v":0.033},
{"i":24,"m":"LS","v":0.049},{"i":24,"m":"Huber","v":0.001},
{"i":25,"m":"LS","v":0.158},{"i":25,"m":"Huber","v":0.147},
{"i":26,"m":"LS","v":-0.215},{"i":26,"m":"Huber","v":-0.194},
{"i":27,"m":"LS","v":-0.067},{"i":27,"m":"Huber","v":-0.041},
{"i":28,"m":"LS","v":-0.116},{"i":28,"m":"Huber","v":-0.172},
{"i":29,"m":"LS","v":-0.036},{"i":29,"m":"Huber","v":-0.043},
{"i":30,"m":"LS","v":0.184},{"i":30,"m":"Huber","v":0.206}
],
"sig":[
{"m":"LS","x":0.01,"y":0},{"m":"LS","x":0.02,"y":0.048},{"m":"LS","x":0.0375,"y":0.074},{"m":"LS","x":0.053,"y":0.1},{"m":"LS","x":0.073,"y":0.143},{"m":"LS","x":0.092,"y":0.157},{"m":"LS","x":0.116,"y":0.169},{"m":"LS","x":0.155,"y":0.183},{"m":"LS","x":0.2,"y":0.195},{"m":"LS","x":0.25,"y":0.209},{"m":"LS","x":0.272,"y":0.218},{"m":"LS","x":0.303,"y":0.233},{"m":"LS","x":0.35,"y":0.256},{"m":"LS","x":0.4,"y":0.28},{"m":"LS","x":0.444,"y":0.299},{"m":"LS","x":0.475,"y":0.313},{"m":"LS","x":0.507,"y":0.333},{"m":"LS","x":0.534,"y":0.356},{"m":"LS","x":0.569,"y":0.402},{"m":"LS","x":0.6,"y":0.446},{"m":"LS","x":0.632,"y":0.506},{"m":"LS","x":0.679,"y":0.596},{"m":"LS","x":0.765,"y":0.712},
{"m":"Huber","x":0.01,"y":0},{"m":"Huber","x":0.057,"y":0},{"m":"Huber","x":0.075,"y":0.031},{"m":"Huber","x":0.092,"y":0.092},{"m":"Huber","x":0.104,"y":0.112},{"m":"Huber","x":0.116,"y":0.126},{"m":"Huber","x":0.147,"y":0.135},{"m":"Huber","x":0.178,"y":0.152},{"m":"Huber","x":0.21,"y":0.174},{"m":"Huber","x":0.241,"y":0.183},{"m":"Huber","x":0.296,"y":0.192},{"m":"Huber","x":0.335,"y":0.212},{"m":"Huber","x":0.382,"y":0.247},{"m":"Huber","x":0.401,"y":0.273},{"m":"Huber","x":0.428,"y":0.302},{"m":"Huber","x":0.475,"y":0.351},{"m":"Huber","x":0.507,"y":0.389},{"m":"Huber","x":0.534,"y":0.428},{"m":"Huber","x":0.569,"y":0.523},{"m":"Huber","x":0.6,"y":0.613},{"m":"Huber","x":0.632,"y":0.731},{"m":"Huber","x":0.671,"y":0.903},{"m":"Huber","x":0.71,"y":1.033},{"m":"Huber","x":0.763,"y":1.193}
]
},
"spacing":0,
"resolve":{"scale":{"color":"independent"},"legend":{"color":"independent"}},
"vconcat":[
{"hconcat":[
{"width":343,"height":281,
"title":{"text":"a","dx":-50,"offset":-11},
"layer":[
{"data":{"name":"la"},"mark":{"type":"line","strokeWidth":1.4,"clip":true},
"encoding":{
"x":{"field":"x","type":"quantitative","scale":{"domain":[0,0.8]},"axis":{"values":[0,0.1,0.2,0.3,0.4,0.5,0.6,0.7,0.8],"format":".1~f","title":"λ path","grid":true,"labelPadding":3,"titlePadding":2}},
"y":{"field":"y","type":"quantitative","scale":{"domain":[-0.6,0.6]},"axis":{"values":[-0.6,-0.4,-0.2,0,0.2,0.4],"labelExpr":"replace(format(datum.value,'.1~f'),'−','-')","grid":true,"labelPadding":4,"title":"βᵢ","titleAngle":0,"titleFont":"DejaVu Serif","titleFontStyle":"italic","titleFontSize":32,"titleColor":"#111","titleAlign":"center","titleBaseline":"middle","titleX":-36,"titleY":141}},
"color":{"field":"s","type":"nominal","scale":{"range":["#0072BD","#D95319","#EDB120","#7E2F8E","#77AC30","#4DBEEE","#A2142F"]},"legend":null}}},
{"data":{"name":"la"},"transform":[{"filter":"datum.x == 0.217 && datum.y != 0"}],"mark":{"type":"point","shape":"square","filled":true,"color":"#000","size":7,"opacity":1},
"encoding":{"x":{"field":"x","type":"quantitative"},"y":{"field":"y","type":"quantitative"}}},
{"data":{"values":[{}]},"mark":{"type":"text","align":"left","baseline":"alphabetic","fontSize":22,"font":"Liberation Sans","color":"#111"},
"encoding":{"x":{"datum":0.05,"type":"quantitative"},"y":{"datum":0.467,"type":"quantitative"},"text":{"value":"LS"}}}
]},
{"width":360,"height":245,
"title":{"text":"b","dx":-39,"offset":-10},
"data":{"name":"bars"},
"encoding":{
"x":{"field":"i","type":"ordinal","scale":{"paddingInner":0.33,"paddingOuter":0.33},"axis":{"title":null,"labelAngle":-90,"grid":true,"labelPadding":4,"labelFontSize":10,"labelExpr":"['RB41','RB41','Solibacterales','Acidobacteriales','Xanthomonadales','Ellin6513','Acidobacteriales','Rubrobacterales','Xanthomonadales','Actinomycetales','Rhizobiales','Rhizobiales','Rhizobiales','Acidobacteriales','Rhizobiales','Acidobacteriales','Acidobacteriales','Rhizobiales','Cytophagales','Rubrobacterales','Micrococcales','Xanthomonadales','RB41','Rubrobacterales','unknown','Ellin6513','Acidobacteriales','Rhizobiales','Acidobacteriales','Rhizobiales'][datum.value-1]"}},
"xOffset":{"field":"m","type":"nominal","sort":["LS","Huber"],"scale":{"paddingInner":0}},
"y":{"field":"v","type":"quantitative","scale":{"domain":[-0.25,0.25]},"axis":{"values":[-0.25,-0.2,-0.15,-0.1,-0.05,0,0.05,0.1,0.15,0.2,0.25],"labelExpr":"replace(format(datum.value,'.2~f'),'−','-')","grid":true,"labelPadding":4,"title":"βᵢ","titleAngle":0,"titleFont":"DejaVu Serif","titleFontStyle":"italic","titleFontSize":32,"titleColor":"#111","titleAlign":"center","titleBaseline":"middle","titleX":-52,"titleY":124}},
"color":{"field":"m","type":"nominal","scale":{"domain":["LS","Huber"],"range":["#0072BD","#D95319"]},"legend":{"orient":"top-left","offset":4,"title":null,"symbolType":"M-1.6,-0.3H1.6V0.3H-1.6Z","symbolSize":144,"strokeColor":"#9a9a9a","fillColor":"white","padding":3,"rowPadding":1,"labelFontSize":11,"labelOffset":6}}},
"layer":[
{"mark":{"type":"bar"}},
{"mark":{"type":"point","shape":"cross","filled":true,"size":45,"opacity":1}}
]}
],"spacing":115,"bounds":"flush","resolve":{"scale":{"color":"independent"},"legend":{"color":"independent"}}},
{"hconcat":[
{"width":342,"height":281,
"title":{"text":"c","dx":-50,"offset":-16},
"layer":[
{"data":{"name":"lc"},"mark":{"type":"line","strokeWidth":1.4,"clip":true},
"encoding":{
"x":{"field":"x","type":"quantitative","scale":{"domain":[0,0.8]},"axis":{"values":[0,0.1,0.2,0.3,0.4,0.5,0.6,0.7,0.8],"format":".1~f","title":"λ path","grid":true,"labelPadding":3,"titlePadding":2}},
"y":{"field":"y","type":"quantitative","scale":{"domain":[-0.6,0.6]},"axis":{"values":[-0.6,-0.4,-0.2,0,0.2,0.4],"labelExpr":"replace(format(datum.value,'.1~f'),'−','-')","grid":true,"labelPadding":4,"title":"βᵢ","titleAngle":0,"titleFont":"DejaVu Serif","titleFontStyle":"italic","titleFontSize":32,"titleColor":"#111","titleAlign":"center","titleBaseline":"middle","titleX":-38,"titleY":145}},
"color":{"field":"s","type":"nominal","scale":{"range":["#0072BD","#D95319","#EDB120","#7E2F8E","#77AC30","#4DBEEE","#A2142F"]},"legend":null}}},
{"data":{"name":"lc"},"transform":[{"filter":"datum.x == 0.217 && datum.y != 0"}],"mark":{"type":"point","shape":"square","filled":true,"color":"#000","size":7,"opacity":1},
"encoding":{"x":{"field":"x","type":"quantitative"},"y":{"field":"y","type":"quantitative"}}},
{"data":{"values":[{}]},"mark":{"type":"text","align":"left","baseline":"alphabetic","fontSize":22,"font":"Liberation Sans","color":"#111"},
"encoding":{"x":{"datum":0.026,"type":"quantitative"},"y":{"datum":0.497,"type":"quantitative"},"text":{"value":"Huber"}}}
]},
{"width":341,"height":270,
"title":{"text":"d","dx":-53,"offset":-14.5},
"data":{"name":"sig"},
"mark":{"type":"line","strokeWidth":1.8},
"encoding":{
"x":{"field":"x","type":"quantitative","scale":{"domain":[0,0.8]},"axis":{"values":[0,0.1,0.2,0.3,0.4,0.5,0.6,0.7,0.8],"format":".1~f","title":"λ path","grid":true,"labelPadding":3,"titlePadding":2}},
"y":{"field":"y","type":"quantitative","scale":{"domain":[-0.2,1.2]},"axis":{"values":[-0.2,0,0.2,0.4,0.6,0.8,1,1.2],"labelExpr":"replace(format(datum.value,'.1~f'),'−','-')","grid":true,"labelPadding":4,"title":"σ","titleAngle":0,"titleFont":"DejaVu Serif","titleFontStyle":"italic","titleFontSize":34,"titleColor":"#111","titleAlign":"center","titleBaseline":"middle","titleX":-43,"titleY":147}},
"color":{"field":"m","type":"nominal","scale":{"domain":["LS","Huber"],"range":["#0072BD","#D95319"]},"legend":{"orient":"top-left","offset":4,"title":null,"symbolType":"stroke","symbolSize":150,"symbolStrokeWidth":3,"strokeColor":"#9a9a9a","fillColor":"white","padding":3,"rowPadding":1,"labelFontSize":11,"labelOffset":8}}}}
],"spacing":127,"bounds":"flush","center":true,"resolve":{"scale":{"color":"independent"},"legend":{"color":"independent"}}}
]
}
